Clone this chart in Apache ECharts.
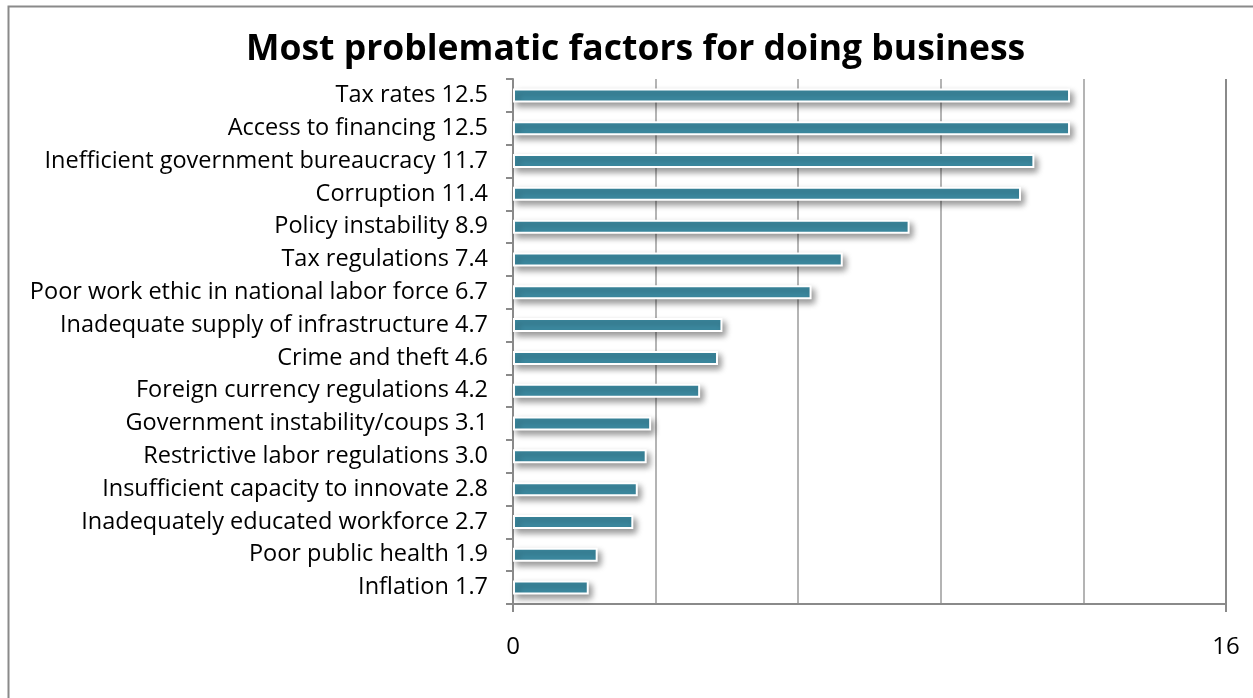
<!DOCTYPE html>
<html>
<head>
<meta charset="utf-8">
<script src="https://cdn.jsdelivr.net/npm/echarts@6/dist/echarts.min.js"></script>
<style>
html,body{margin:0;padding:0;background:#fff;}
#c{width:1253px;height:698px;}
</style>
</head>
<body>
<div id="c"></div>
<script>
const categories = [
  "Tax rates",
  "Access to financing",
  "Inefficient government bureaucracy",
  "Corruption",
  "Policy instability",
  "Tax regulations",
  "Poor work ethic in national labor force",
  "Inadequate supply of infrastructure",
  "Crime and theft",
  "Foreign currency regulations",
  "Government instability/coups",
  "Restrictive labor regulations",
  "Insufficient capacity to innovate",
  "Inadequately educated workforce",
  "Poor public health",
  "Inflation"
];
const values = [12.5, 12.5, 11.7, 11.4, 8.9, 7.4, 6.7, 4.7, 4.6, 4.2, 3.1, 3.0, 2.8, 2.7, 1.9, 1.7];
const xTickLabels = ["0", "16"];
const titleText = "Most problematic factors for doing business";

const chart = echarts.init(document.getElementById('c'));
const font = "'Open Sans', 'Noto Sans', sans-serif";
chart.setOption({
  animation: false,
  backgroundColor: '#fff',
  title: {
    text: titleText,
    left: 241,
    top: 27,
    textStyle: {fontFamily: font, fontWeight: 'bold', fontSize: 35.5, color: '#000'}
  },
  graphic: [{
    type: 'rect',
    shape: {x: 8.5, y: 6.5, width: 1270, height: 720},
    style: {fill: 'none', stroke: '#8a8a8a', lineWidth: 2},
    silent: true, z: -1
  }],
  grid: {left: 513, right: 27, top: 79, bottom: 94, containLabel: false},
  xAxis: [{
    type: 'value', min: 0, max: 16, interval: 3.2,
    axisLine: {show: true, lineStyle: {color: '#8a8a8a', width: 2}},
    axisTick: {show: false},
    axisLabel: {show: false},
    splitLine: {show: true, lineStyle: {color: ['#b4b4b4','#b4b4b4','#b4b4b4','#b4b4b4','#b4b4b4','#8a8a8a'], width: 2}}
  }, {
    type: 'value', min: 0, max: 16, interval: 16, position: 'bottom',
    axisLine: {show: false},
    axisTick: {show: true, length: 8, lineStyle: {color: '#8a8a8a', width: 2}},
    axisLabel: {
      show: true, margin: 31, color: '#000',
      fontSize: 24, fontFamily: font,
      formatter: function (v) { return v === 0 ? xTickLabels[0] : (v === 16 ? xTickLabels[1] : ''); }
    },
    splitLine: {show: false}
  }],
  yAxis: {
    type: 'category', inverse: true, data: categories,
    axisLine: {show: true, lineStyle: {color: '#8a8a8a', width: 2}},
    axisTick: {show: true, length: 7, lineStyle: {color: '#8a8a8a', width: 2}},
    axisLabel: {
      margin: 25, color: '#000', fontSize: 23.5, fontFamily: font,
      padding: [6, 0, 0, 0],
      formatter: function (v, i) { return v + ' ' + values[i].toFixed(1); }
    },
    splitLine: {show: false}
  },
  series: [{
    type: 'bar',
    data: values,
    barWidth: 14,
    itemStyle: {
      color: '#3d8ca3',
      borderColor: '#ffffff',
      borderWidth: 2,
      shadowBlur: 6,
      shadowOffsetX: 3,
      shadowOffsetY: 4,
      shadowColor: 'rgba(0,0,0,0.4)'
    }
  }]
});
</script>
</body>
</html>
